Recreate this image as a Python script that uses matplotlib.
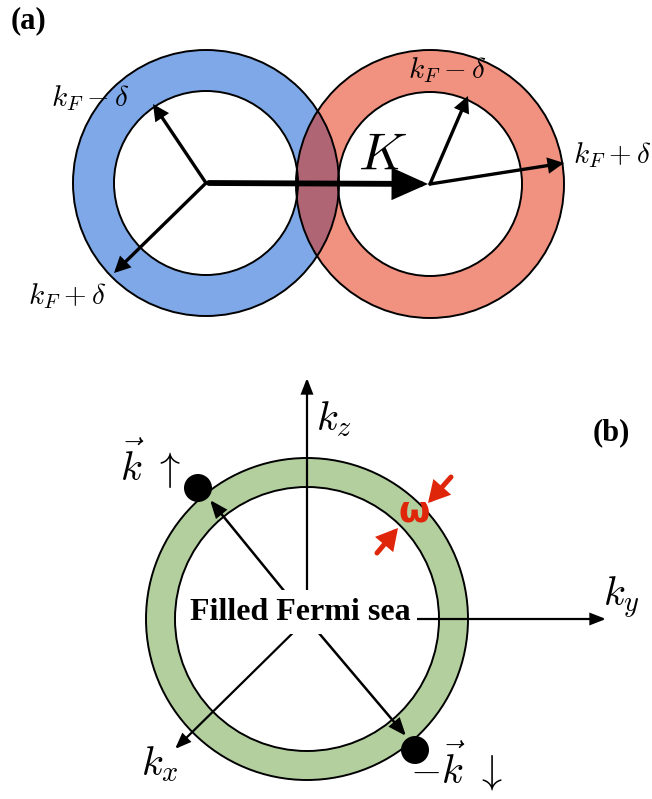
import matplotlib
matplotlib.use("Agg")
import matplotlib.pyplot as plt
from matplotlib.patches import Wedge, Circle, FancyArrowPatch

plt.rcParams["mathtext.fontset"] = "cm"

# ---------------- geometry (pixel units, y downward) ----------------
W, H = 652, 799

# panel (a): two shifted Fermi shells
shell_centers = [(206, 183), (430, 184)]
shell_inner = [92, 92]
shell_outer = [133, 134]
shell_colors = ["#7ea8e7", "#f19180"]
overlap_color = "#b06575"

a_arrow_tips = [(153, 104), (114, 273), (468, 96), (564, 163)]
a_arrow_origin = [0, 0, 1, 1]
a_labels = [r"$k_F-\delta$", r"$k_F+\delta$", r"$k_F-\delta$", r"$k_F+\delta$"]
a_label_pos = [(90, 98), (67, 296), (447, 70), (612, 155)]
K_start, K_end = (209, 183), (428, 184)

# panel (b): Fermi sea with a shell of width omega
sea_center = (307, 619)
sea_inner, sea_outer = 132, 161
sea_color = "#b3cf9e"
axis_tips = [(307, 378), (606, 619), (175, 749)]
axis_labels = [r"$k_z$", r"$k_y$", r"$k_x$"]
axis_label_pos = [(334, 419), (621, 598), (160, 764)]
pair_tips = [(210, 500), (406, 736)]
pair_dots = [(198, 488), (415, 750)]
pair_labels = [r"$\vec{k}\ \uparrow$", r"$-\vec{k}\ \downarrow$"]
pair_label_pos = [(151, 464), (456, 766)]
omega_pos = (414, 512)
omega_arrows = [((451, 477), (428, 503)), ((377, 553), (398, 528))]

fig = plt.figure(figsize=(W / 100, H / 100), dpi=100)
ax = fig.add_axes([0, 0, 1, 1])
ax.set_xlim(0, W)
ax.set_ylim(H, 0)
ax.axis("off")


def arrow(p0, p1, lw, hl, hw, color="black", z=5):
    a = FancyArrowPatch(p0, p1, arrowstyle=f"-|>,head_length={hl},head_width={hw}",
                        lw=lw, color=color, shrinkA=0, shrinkB=0,
                        mutation_scale=1, zorder=z, joinstyle="miter")
    ax.add_patch(a)
    return a


# ---- (a) ----
rings = []
for c, r, R, col in zip(shell_centers, shell_inner, shell_outer, shell_colors):
    w = Wedge(c, R, 0, 360, width=R - r, facecolor=col, edgecolor="none", zorder=1)
    ax.add_patch(w)
    rings.append(w)
ov = Wedge(shell_centers[1], shell_outer[1], 0, 360,
           width=shell_outer[1] - shell_inner[1],
           facecolor=overlap_color, edgecolor="none", zorder=2)
ax.add_patch(ov)
ov.set_clip_path(rings[0])
for c, r, R in zip(shell_centers, shell_inner, shell_outer):
    for rad in (r, R):
        ax.add_patch(Circle(c, rad, fill=False, edgecolor="black", lw=1.4, zorder=3))

for tip, oi in zip(a_arrow_tips, a_arrow_origin):
    arrow(shell_centers[oi], tip, lw=2.4, hl=8, hw=4)
arrow(K_start, K_end, lw=4.2, hl=19, hw=8.5)

for s, p in zip(a_labels, a_label_pos):
    ax.text(*p, s, fontsize=21, ha="center", va="center", zorder=6)
ax.text(383, 155, r"$K$", fontsize=38, ha="center", va="center", zorder=6)
ax.text(11, 21, "(a)", fontsize=22, fontweight="bold", family="Liberation Serif",
        ha="left", va="center")

# ---- (b) ----
ax.add_patch(Wedge(sea_center, sea_outer, 0, 360, width=sea_outer - sea_inner,
                   facecolor=sea_color, edgecolor="none", zorder=1))
for rad in (sea_inner, sea_outer):
    ax.add_patch(Circle(sea_center, rad, fill=False, edgecolor="black", lw=1.4, zorder=3))

for tip in axis_tips:
    arrow(sea_center, tip, lw=1.6, hl=9, hw=3.5)
for tip in pair_tips:
    arrow(sea_center, tip, lw=1.8, hl=10, hw=4)
for d in pair_dots:
    ax.add_patch(Circle(d, 14, facecolor="black", edgecolor="none", zorder=7))

for s, p in zip(axis_labels, axis_label_pos):
    ax.text(*p, s, fontsize=29, ha="center", va="center", zorder=6)
for s, p in zip(pair_labels, pair_label_pos):
    ax.text(*p, s, fontsize=29, ha="center", va="center", zorder=6)

ax.text(sea_center[0] - 7, 612, "Filled Fermi sea", fontsize=23, fontweight="bold",
        family="Liberation Serif", ha="center", va="center", zorder=8,
        bbox=dict(facecolor="white", edgecolor="none", pad=5))

ax.text(*omega_pos, "ω", fontsize=26, fontweight="bold", color="#e0260a",
        family="DejaVu Sans", ha="center", va="center", zorder=8)
for p0, p1 in omega_arrows:
    arrow(p0, p1, lw=3.6, hl=10, hw=5.5, color="#e0260a", z=8)

ax.text(611, 433, "(b)", fontsize=22, fontweight="bold", family="Liberation Serif",
        ha="center", va="center")

fig.savefig("out.png", dpi=100)
